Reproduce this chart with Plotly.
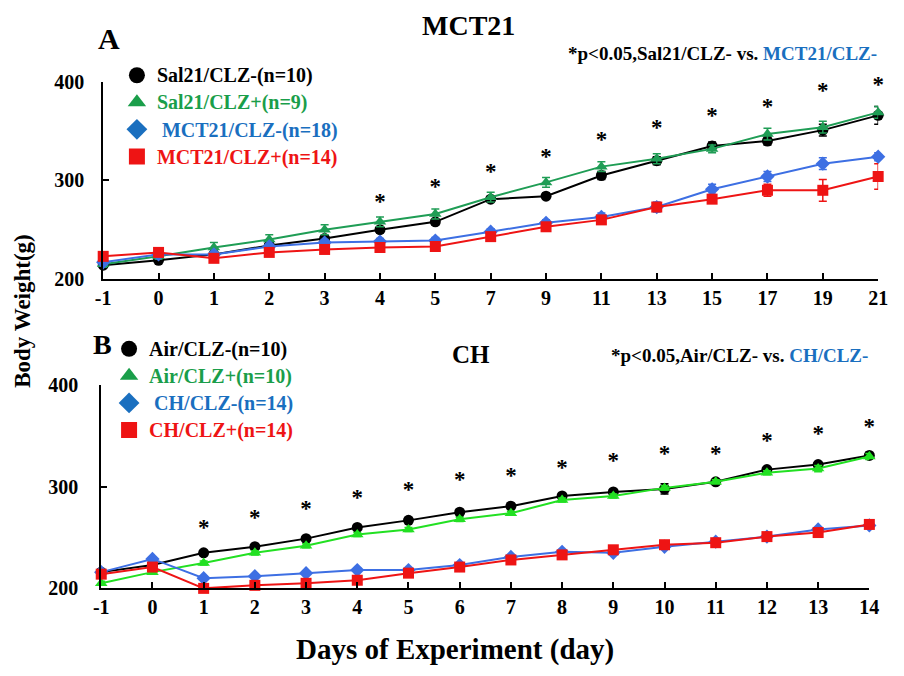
import plotly.graph_objects as go

# ---------------- Panel A: MCT21 ----------------
days_A = ["-1", "0", "1", "2", "3", "4", "5", "7", "9", "11", "13", "15", "17", "19", "21"]
sal_neg = [214, 219, 225, 234, 241, 250, 258, 281, 284, 305, 320, 335, 340, 351, 366]
sal_neg_err = [2, 2, 3, 3, 3, 3, 3, 3, 3, 4, 4, 4, 4, 6, 9]
sal_pos = [215, 223, 232, 240, 250, 258, 266, 283, 298, 314, 322, 332, 347, 354, 369]
sal_pos_err = [3, 3, 5, 5, 5, 5, 5, 5, 5, 5, 5, 4, 6, 6, 6]
mct_neg = [217, 225, 225, 233, 237, 238, 239, 248, 257, 263, 273, 291, 304, 317, 324]
mct_neg_err = [2, 2, 3, 3, 3, 3, 3, 3, 3, 4, 5, 5, 5, 6, 4]
mct_pos = [223, 227, 221, 227, 230, 232, 233, 243, 253, 260, 273, 281, 290, 290, 304]
mct_pos_err = [3, 3, 3, 3, 3, 3, 3, 3, 3, 3, 4, 4, 6, 11, 13]
star_days_A = ["4", "5", "7", "9", "11", "13", "15", "17", "19", "21"]
star_y_A = [277, 292, 307, 322, 340, 352, 364, 373, 389, 396]

# ---------------- Panel B: CH ----------------
days_B = ["-1", "0", "1", "2", "3", "4", "5", "6", "7", "8", "9", "10", "11", "12", "13", "14"]
air_neg = [216, 223, 235, 241, 249, 260, 267, 275, 281, 291, 295, 298, 305, 317, 322, 331]
air_neg_err = [2, 2, 2, 2, 2, 2, 2, 2, 2, 2, 2, 5, 2, 2, 2, 3]
air_pos = [205, 216, 225, 235, 242, 253, 258, 268, 274, 287, 291, 299, 305, 314, 318, 330]
air_pos_err = [2, 2, 2, 2, 2, 2, 2, 2, 2, 2, 2, 2, 2, 2, 3, 3]
ch_neg = [216, 229, 210, 212, 215, 218, 218, 223, 231, 236, 235, 241, 246, 251, 258, 262]
ch_neg_err = [2, 2, 2, 2, 2, 2, 2, 2, 2, 2, 2, 2, 2, 2, 2, 2]
ch_pos = [214, 221, 200, 203, 205, 208, 215, 221, 228, 233, 238, 243, 245, 251, 255, 263]
ch_pos_err = [2, 2, 2, 2, 2, 2, 2, 2, 2, 2, 2, 2, 2, 2, 2, 2]
star_days_B = ["1", "2", "3", "4", "5", "6", "7", "8", "9", "10", "11", "12", "13", "14"]
star_y_B = [258, 268, 277, 288, 296, 306, 309, 317, 324, 331, 331, 344, 351, 358]

yticks = [200, 300, 400]

FONT = "Liberation Serif, Times New Roman, serif"
BLACK = "#000000"
GREEN_A = "#1f9d55"
GREEN_B = "#22e022"
BLUE_LINE = "#3d6fe3"
RED = "#ee1414"
GREEN_TXT = "#1a9e4a"
BLUE_TXT = "#1a6fbf"

# page body keeps its default 8px margin, so the figure is 16px smaller than the window
OFF = 8
FW, FH = 904 - 2 * OFF, 676 - 2 * OFF


def px(x):
    return (x - OFF) / FW


def py(y):
    return 1 - (y - OFF) / FH


fig = go.Figure()


def add_series(x, y, err, color, symbol, xa, ya):
    fig.add_trace(go.Scatter(
        x=x, y=y, mode="lines+markers", xaxis=xa, yaxis=ya,
        line=dict(color=color, width=2),
        marker=dict(color=color, symbol=symbol, size=11),
        error_y=dict(type="data", array=err, color=color, thickness=1.5, width=4),
        showlegend=False, cliponaxis=False, hoverinfo="x+y"))


def add_legend(name, color, txtcolor, symbol, legend):
    fig.add_trace(go.Scatter(
        x=[None], y=[None], mode="markers",
        marker=dict(color=color, symbol=symbol, size=16),
        name=f"<span style='color:{txtcolor};font-size:20px'>{name}</span>",
        legend=legend, showlegend=True))


# Panel A traces
add_series(days_A, sal_neg, sal_neg_err, BLACK, "circle", "x", "y")
add_series(days_A, sal_pos, sal_pos_err, GREEN_A, "triangle-up", "x", "y")
add_series(days_A, mct_neg, mct_neg_err, BLUE_LINE, "diamond", "x", "y")
add_series(days_A, mct_pos, mct_pos_err, RED, "square", "x", "y")
fig.add_trace(go.Scatter(x=star_days_A, y=star_y_A, mode="text", text=["*"] * len(star_y_A),
                         textfont=dict(size=23, color=BLACK, family=FONT, weight="bold"),
                         xaxis="x", yaxis="y", showlegend=False, cliponaxis=False, hoverinfo="skip"))

# Panel B traces
add_series(days_B, air_neg, air_neg_err, BLACK, "circle", "x2", "y2")
add_series(days_B, air_pos, air_pos_err, GREEN_B, "triangle-up", "x2", "y2")
add_series(days_B, ch_neg, ch_neg_err, BLUE_LINE, "diamond", "x2", "y2")
add_series(days_B, ch_pos, ch_pos_err, RED, "square", "x2", "y2")
fig.add_trace(go.Scatter(x=star_days_B, y=star_y_B, mode="text", text=["*"] * len(star_y_B),
                         textfont=dict(size=23, color=BLACK, family=FONT, weight="bold"),
                         xaxis="x2", yaxis="y2", showlegend=False, cliponaxis=False, hoverinfo="skip"))

# Legends
add_legend("Sal21/CLZ-(n=10)", BLACK, BLACK, "circle", "legend")
add_legend("Sal21/CLZ+(n=9)", GREEN_TXT, GREEN_TXT, "triangle-up", "legend")
add_legend("&nbsp;MCT21/CLZ-(n=18)", BLUE_TXT, BLUE_TXT, "diamond", "legend")
add_legend("MCT21/CLZ+(n=14)", RED, RED, "square", "legend")
add_legend("Air/CLZ-(n=10)", BLACK, BLACK, "circle", "legend2")
add_legend("Air/CLZ+(n=10)", GREEN_TXT, GREEN_TXT, "triangle-up", "legend2")
add_legend("&nbsp;CH/CLZ-(n=14)", BLUE_TXT, BLUE_TXT, "diamond", "legend2")
add_legend("CH/CLZ+(n=14)", RED, RED, "square", "legend2")

axis_common = dict(showline=True, linecolor=BLACK, linewidth=2, ticks="inside",
                   ticklen=6, tickwidth=2, tickcolor=BLACK, showgrid=False, zeroline=False,
                   tickfont=dict(size=20, family=FONT, color=BLACK, weight="bold"))

legend_common = dict(bgcolor="rgba(0,0,0,0)", borderwidth=0, tracegroupgap=0,
                     font=dict(size=18.5, family=FONT, color=BLACK, weight="bold"),
                     xanchor="left", yanchor="top", itemclick=False, itemdoubleclick=False)


def ann(text, x, y, size, angle=0, xanchor="center"):
    return dict(text=text, x=px(x), y=py(y), xref="paper", yref="paper",
                showarrow=False, xanchor=xanchor, yanchor="middle", textangle=angle,
                font=dict(size=size, family=FONT, color=BLACK, weight="bold"))


fig.update_layout(
    width=FW, height=FH, margin=dict(l=0, r=0, t=0, b=0),
    paper_bgcolor="white", plot_bgcolor="white",
    font=dict(family=FONT, color=BLACK, weight="bold"),
    xaxis=dict(domain=[px(97), px(888)], anchor="y", type="category", range=[0, len(days_A) - 1],
               **axis_common),
    yaxis=dict(domain=[py(277), py(73)], anchor="x", range=[200, 400], tickvals=yticks,
               ticklabelstandoff=13, **axis_common),
    xaxis2=dict(domain=[px(95), px(879)], anchor="y2", type="category", range=[0, len(days_B) - 1],
                **axis_common),
    yaxis2=dict(domain=[py(597), py(387)], anchor="x2", range=[200, 400], tickvals=yticks,
                ticklabelstandoff=17, **axis_common),
    legend=dict(x=px(111), y=py(47), **legend_common),
    legend2=dict(x=px(103), y=py(330), **legend_common),
    annotations=[
        ann("A", 103, 28, 30),
        ann("MCT21", 470, 15, 28),
        ann("*p<0.05,Sal21/CLZ- vs. <span style='color:%s'>MCT21/CLZ-</span>" % BLUE_TXT, 729, 44, 19),
        ann("B", 96, 345, 28),
        ann("CH", 472, 355, 25),
        ann("*p<0.05,Air/CLZ- vs. <span style='color:%s'>CH/CLZ-</span>" % BLUE_TXT, 746, 356, 19),
        ann("Body Weight(g)", 15, 310, 23, angle=-90),
        ann("Days of Experiment (day)", 456, 660, 29),
    ],
)

fig.write_html("out.html", config={"displayModeBar": False})
